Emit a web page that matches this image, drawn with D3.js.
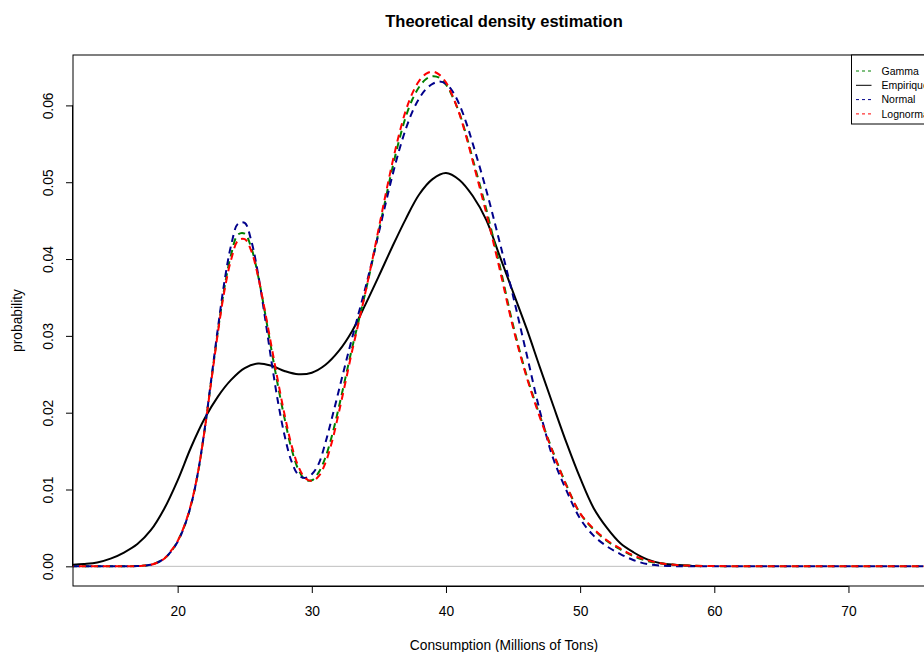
<!DOCTYPE html>
<html>
<head>
<meta charset="utf-8">
<script src="https://cdn.jsdelivr.net/npm/d3@7"></script>
<style>
  body { margin: 0; background: #fff; }
  svg text { font-family: "Liberation Sans", Arial, sans-serif; fill: #000; }
</style>
</head>
<body>
<svg id="chart" width="924" height="652"></svg>
<script>
// empirical density (kernel estimate)
const empX = [12.2, 13, 14, 15, 16, 17, 18, 19, 20, 21, 22, 23, 24, 25, 26, 27, 28, 29, 30,
  31, 32, 33, 34, 35, 36, 37, 38, 39, 40, 41, 42, 43, 44, 45, 46, 47, 48, 49, 50,
  51, 52, 53, 54, 55, 56, 57, 58, 59]
const empY = [0.0002, 0.0003, 0.0005, 0.0010, 0.0018, 0.0029, 0.0047, 0.0075, 0.0112, 0.0155,
  0.0192, 0.0221, 0.0243, 0.0258, 0.0264, 0.0261, 0.0254, 0.0250, 0.0252,
  0.0262, 0.0280, 0.0306, 0.0341, 0.0378, 0.0416, 0.0452, 0.0484, 0.0504, 0.0512,
  0.0503, 0.0482, 0.0451, 0.0404, 0.0357, 0.0310, 0.0259, 0.0209, 0.0160, 0.0115,
  0.0076, 0.0050, 0.0030, 0.0018, 0.0009, 0.0004, 0.0002, 0.0001, 0.0000]

// fitted mixtures, all on the same grid
const fitX = [12.2, 14, 16, 17, 17.5, 18, 18.5, 19, 19.5, 20, 20.5, 21, 21.5, 22, 22.5, 23, 23.5,
  24, 24.5, 25, 25.5, 26, 26.5, 27, 27.5, 28, 28.5, 29, 29.5, 30, 30.5, 31, 31.5, 32, 32.5,
  33, 33.5, 34, 34.5, 35, 35.5, 36, 36.5, 37, 37.5, 38, 38.5, 39, 39.5, 40, 40.5, 41, 41.5,
  42, 43, 44, 45, 46, 47, 48, 49, 50, 51, 52, 53, 54, 55, 56, 57, 58, 60, 65, 70, 76.45]
const gammaY = [0, 0, 0, 0.00003, 0.0001, 0.0002, 0.0005, 0.0010, 0.0019, 0.0033, 0.0052, 0.0080,
  0.0120, 0.0176, 0.0241, 0.0306, 0.0364, 0.0407, 0.0432, 0.0433, 0.0414, 0.0378, 0.0331,
  0.0281, 0.0233, 0.0190, 0.0152, 0.0126, 0.0113, 0.0112, 0.0122, 0.0141, 0.0170, 0.0206,
  0.0245, 0.0284, 0.0320, 0.0357, 0.0396, 0.0437, 0.0478, 0.0518, 0.0554, 0.0585, 0.0608,
  0.0624, 0.0634, 0.0638, 0.0636, 0.0627, 0.0611, 0.0590, 0.0562, 0.0530, 0.0465, 0.0392,
  0.0314, 0.0249, 0.0196, 0.0148, 0.0105, 0.0069, 0.0048, 0.0033, 0.0022, 0.0013, 0.0007,
  0.0004, 0.0002, 0.0001, 0.00003, 0, 0, 0]
const normalY = [0, 0, 0, 0.00003, 0.0001, 0.0002, 0.0005, 0.0010, 0.0019, 0.0032, 0.0052, 0.0080,
  0.0121, 0.0177, 0.0243, 0.0310, 0.0372, 0.0419, 0.0446, 0.0447, 0.0423, 0.0380, 0.0325,
  0.0266, 0.0212, 0.0168, 0.0136, 0.0119, 0.0115, 0.0120, 0.0133, 0.0160, 0.0193, 0.0228,
  0.0263, 0.0297, 0.0330, 0.0363, 0.0398, 0.0435, 0.0472, 0.0508, 0.0541, 0.0569, 0.0592,
  0.0609, 0.0621, 0.0628, 0.0631, 0.0628, 0.0618, 0.0601, 0.0578, 0.0550, 0.0490, 0.0422,
  0.0352, 0.0277, 0.0202, 0.0140, 0.0098, 0.0062, 0.0040, 0.0026, 0.0016, 0.0008, 0.0003,
  0.0001, 0.00003, 0, 0, 0, 0, 0]
const lognormY = [0, 0, 0, 0.00002, 0.0001, 0.0002, 0.0005, 0.0010, 0.0020, 0.0033, 0.0053, 0.0081,
  0.0121, 0.0176, 0.0240, 0.0304, 0.0360, 0.0400, 0.0424, 0.0426, 0.0410, 0.0377, 0.0333,
  0.0286, 0.0239, 0.0195, 0.0157, 0.0130, 0.0115, 0.0111, 0.0117, 0.0134, 0.0162, 0.0199,
  0.0239, 0.0280, 0.0318, 0.0357, 0.0398, 0.0441, 0.0484, 0.0525, 0.0562, 0.0593, 0.0616,
  0.0632, 0.0641, 0.0644, 0.0640, 0.0630, 0.0612, 0.0589, 0.0560, 0.0527, 0.0460, 0.0387,
  0.0311, 0.0247, 0.0194, 0.0147, 0.0104, 0.0069, 0.0049, 0.0034, 0.0023, 0.0014, 0.0008,
  0.0004, 0.0002, 0.0001, 0.00004, 0, 0, 0]

const xTicks = [20, 30, 40, 50, 60, 70]
const yTicks = [0, 0.01, 0.02, 0.03, 0.04, 0.05, 0.06]
const legendNames = ['Gamma', 'Empirique', 'Normal', 'Lognormal']
const legendColors = ['green', 'black', '#00008b', 'red']

const svg = d3.select('#chart')
const mLeft = 73, mTop = 55, mRight = 935, mBottom = 586
const fontSize = '13.8px'

const xScale = d3.scaleLinear().domain([12.2, 76.45]).range([mLeft, mRight])
const yScale = d3.scaleLinear().domain([-0.00256, 0.06656]).range([mBottom, mTop])

svg.append('rect').attr('width', 924).attr('height', 652).attr('fill', '#fff')

svg.append('defs').append('clipPath').attr('id', 'clip')
  .append('rect').attr('x', mLeft).attr('y', mTop).attr('width', mRight - mLeft).attr('height', mBottom - mTop)

const plot = svg.append('g').attr('clip-path', 'url(#clip)')

plot.append('line')
  .attr('x1', mLeft).attr('x2', mRight)
  .attr('y1', yScale(0)).attr('y2', yScale(0))
  .attr('stroke', '#bebebe').attr('stroke-width', 1)

const line = d3.line()
  .x(d => xScale(d[0]))
  .y(d => yScale(d[1]))
  .curve(d3.curveCatmullRom.alpha(0.5))

const series = [
  { xs: empX, ys: empY, color: 'black', dash: null, off: 0 },
  { xs: fitX, ys: gammaY, color: 'green', dash: '7,5', off: 3 },
  { xs: fitX, ys: normalY, color: '#00008b', dash: '7,5', off: 0 },
  { xs: fitX, ys: lognormY, color: 'red', dash: '7,5', off: 6 }
]

series.forEach(s => {
  plot.append('path')
    .datum(d3.zip(s.xs, s.ys))
    .attr('d', line)
    .attr('fill', 'none')
    .attr('stroke', s.color)
    .attr('stroke-width', 2)
    .attr('stroke-dasharray', s.dash)
    .attr('stroke-dashoffset', s.off)
})

// box
svg.append('rect')
  .attr('x', mLeft).attr('y', mTop)
  .attr('width', mRight - mLeft).attr('height', mBottom - mTop)
  .attr('fill', 'none').attr('stroke', '#000').attr('stroke-width', 1)

const xAxis = d3.axisBottom(xScale).tickValues(xTicks).tickSize(7).tickPadding(13).tickFormat(d3.format('d'))
const gx = svg.append('g').attr('transform', `translate(0,${mBottom})`).call(xAxis)
gx.select('.domain').attr('d', `M${xScale(20)},0.5H${xScale(70)}`)
gx.selectAll('.tick text').style('font-size', fontSize).style('font-family', '"Liberation Sans", Arial, sans-serif')

const yAxis = d3.axisLeft(yScale).tickValues(yTicks).tickSize(7).tickFormat(d3.format('.2f'))
const gy = svg.append('g').attr('transform', `translate(${mLeft},0)`).call(yAxis)
gy.select('.domain').attr('d', `M-0.5,${yScale(0)}V${yScale(0.06)}`)
gy.selectAll('.tick text')
  .style('font-size', fontSize).style('font-family', '"Liberation Sans", Arial, sans-serif')
  .attr('text-anchor', 'middle')
  .attr('x', null).attr('dy', null)
  .attr('transform', 'translate(-20,0) rotate(-90)')

svg.append('text')
  .attr('x', (mLeft + mRight) / 2).attr('y', 27)
  .attr('text-anchor', 'middle')
  .style('font-size', '16.5px').style('font-weight', 'bold')
  .text('Theoretical density estimation')

svg.append('text')
  .attr('x', (mLeft + mRight) / 2).attr('y', 650)
  .attr('text-anchor', 'middle')
  .style('font-size', fontSize)
  .text('Consumption (Millions of Tons)')

svg.append('text')
  .attr('transform', `translate(22,${(mTop + mBottom) / 2}) rotate(-90)`)
  .attr('text-anchor', 'middle')
  .style('font-size', fontSize)
  .text('probability')

// legend, top right corner of the plot
const lg = svg.append('g').attr('transform', `translate(851.5,${mTop})`)
lg.append('rect').attr('width', 100).attr('height', 69)
  .attr('fill', '#fff').attr('stroke', '#000').attr('stroke-width', 1)
legendNames.forEach((name, i) => {
  const y = 16 + i * 14.3
  lg.append('line')
    .attr('x1', 4.5).attr('x2', 20).attr('y1', y).attr('y2', y)
    .attr('stroke', legendColors[i]).attr('stroke-width', 1)
    .attr('stroke-dasharray', name === 'Empirique' ? null : '3,3')
  lg.append('text')
    .attr('x', 30).attr('y', y + 3.8)
    .style('font-size', '10.5px')
    .text(name)
})
</script>
</body>
</html>
